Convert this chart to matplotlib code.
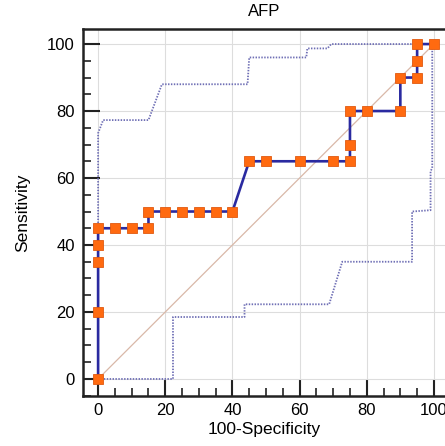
import matplotlib
matplotlib.use("Agg")
import matplotlib.pyplot as plt
from matplotlib.ticker import MultipleLocator

plt.rcParams['font.family'] = ['Liberation Sans', 'DejaVu Sans']

# ROC curve (100-specificity, sensitivity)
roc_x = [0, 0, 0, 0, 0, 5, 10, 15, 15, 20, 25, 30, 35, 40, 45, 50, 60, 70, 75, 75, 75, 80, 90, 90, 95, 95, 95, 100]
roc_y = [0, 20, 35, 40, 45, 45, 45, 45, 50, 50, 50, 50, 50, 50, 65, 65, 65, 65, 65, 70, 80, 80, 80, 90, 90, 95, 100, 100]

# confidence bounds
upper_x = [0, 0, 1.5, 15, 19, 44.5, 45, 62, 62.3, 68.3, 69.4, 100]
upper_y = [0, 73.4, 77.3, 77.3, 88, 88, 96, 96, 98.7, 98.7, 100, 100]
lower_x = [0, 22.3, 22.3, 43.6, 43.6, 68.8, 72.7, 93.5, 93.5, 99, 99, 99.5, 99.5, 100]
lower_y = [0, 0, 18.5, 18.5, 22.3, 22.3, 35, 35, 50, 50.4, 62, 63, 100, 100]

fig = plt.figure(figsize=(4.45, 4.46), dpi=100)
ax = fig.add_axes([0.1865, 0.112, 0.8135, 0.823])

ax.plot([0, 100], [0, 100], color='#d9b8a8', lw=0.9, zorder=2)
ax.plot(upper_x, upper_y, color='#6f6fb5', lw=1.3, ls=(0, (0.8, 0.8)), zorder=2)
ax.plot(lower_x, lower_y, color='#6f6fb5', lw=1.3, ls=(0, (0.8, 0.8)), zorder=2)
ax.plot(roc_x, roc_y, color='#2a2aa0', lw=1.9, marker='s', markersize=7.5,
        markerfacecolor='#ff6a10', markeredgecolor='#e05a10', markeredgewidth=0.6, zorder=3)

ax.set_xlim(-4.5, 103.3)
ax.set_ylim(-5.1, 104.5)
ax.xaxis.set_major_locator(MultipleLocator(20))
ax.xaxis.set_minor_locator(MultipleLocator(5))
ax.yaxis.set_major_locator(MultipleLocator(20))
ax.yaxis.set_minor_locator(MultipleLocator(5))
ax.tick_params(which='major', direction='in', length=12, width=1.5, labelsize=12, pad=5, color='#222222')
ax.tick_params(which='minor', direction='in', length=6, width=1.2, color='#222222')
ax.tick_params(axis='y', which='major', pad=6)
ax.grid(True, which='major', color='#dddddd', lw=0.8, zorder=0)
ax.set_axisbelow(True)

for s in ['left', 'bottom', 'top']:
    ax.spines[s].set_linewidth(1.8)
    ax.spines[s].set_color('#222222')
ax.spines['right'].set_visible(False)

ax.set_title('AFP', fontsize=12, pad=9)
ax.set_xlabel('100-Specificity', fontsize=12.5, labelpad=3)
ax.set_ylabel('Sensitivity', fontsize=12.5, labelpad=12)

fig.savefig('out.png', dpi=100)
